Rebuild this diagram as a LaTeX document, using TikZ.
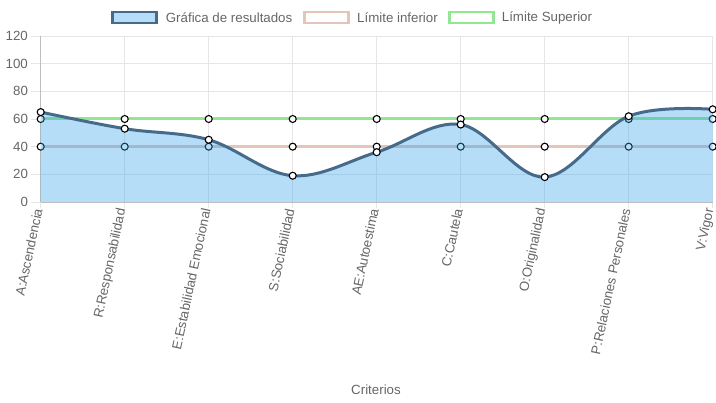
\documentclass[tikz,border=0pt]{standalone}
\usepackage{fontspec}
\setmainfont{Liberation Sans}
\usetikzlibrary{positioning}

\definecolor{gridc}{RGB}{230,230,230}
\definecolor{axisc}{RGB}{190,190,190}
\definecolor{txtc}{RGB}{102,102,102}
\definecolor{resline}{RGB}{69,106,138}
\definecolor{resfill}{RGB}{54,162,235}
\definecolor{infc}{RGB}{229,196,186}
\definecolor{supc}{RGB}{144,232,144}

\begin{document}
\begin{tikzpicture}[x=1pt, y=-1pt,
  lbl/.style={text=txtc, font=\fontsize{13.3}{15}\selectfont, inner sep=0pt},
  grid/.style={draw=gridc, line width=0.8pt},
  axis/.style={draw=axisc, line width=0.8pt},
  pt/.style={circle, draw=black, fill=white, line width=1.1pt, minimum size=7pt, inner sep=0pt},
  limline/.style={line width=3pt},
  legbox/.style={line width=2.6pt, minimum width=44pt, minimum height=11pt, inner sep=0pt}]
\useasboundingbox (0,0) rectangle (716,403);

\begin{scope}[shift={(40.7,202)}, x=84pt, y=1.3833pt]
  % grid and ticks
  \foreach \v in {0,20,...,120} {
    \draw[grid] (-0.12,\v) -- (8,\v);
    \node[lbl, anchor=east] (y\v) at (-0.15,\v) {\v};
  }
  \foreach \k in {0,...,8}
    \draw[grid] (\k,-4.6) -- (\k,120);
  \draw[axis] (0,0) -- (8,0);
  \draw[axis] (0,0) -- (0,120);

  % data
  \foreach \v [count=\k from 0] in {65,53,45,19,36,56,18,62,67} {
    \coordinate (r\k) at (\k,\v);
    \coordinate (li\k) at (\k,40);
    \coordinate (ls\k) at (\k,60);
  }
  \coordinate (b0) at (0,0);
  \coordinate (b8) at (8,0);

  % Limite Superior
  \draw[limline, supc] (ls0) -- (ls8);
  \foreach \k in {0,...,8} \node[pt] (pls\k) at (ls\k) {};
  % Limite inferior
  \draw[limline, infc] (li0) -- (li8);
  \foreach \k in {0,...,8} \node[pt] (pli\k) at (li\k) {};
  % Grafica de resultados
  \fill[resfill, fill opacity=0.36] plot[smooth, tension=0.6] coordinates {(r0) (r1) (r2) (r3) (r4) (r5) (r6) (r7) (r8)} -- (b8) -- (b0) -- cycle;
  \draw[limline, resline] plot[smooth, tension=0.6] coordinates {(r0) (r1) (r2) (r3) (r4) (r5) (r6) (r7) (r8)};
  \foreach \k in {0,...,8} \node[pt] (pr\k) at (r\k) {};

  % categories
  \foreach \c [count=\k from 0] in {A:Ascendencia, R:Responsabilidad, E:Estabilidad Emocional, S:Sociabilidad, AE:Autoestima, C:Cautela, O:Originalidad, P:Relaciones Personales, V:Vigor}
    \node[lbl, rotate=78, anchor=east] (c\k) at (\k-0.03,-4.8) {\c};
\end{scope}

% legend
\node[legbox, draw=resline, fill=resfill, fill opacity=0.36, draw opacity=1] (lgr) at (134.5,17.5) {};
\node[lbl, anchor=west] (tgr) at (165.7,17.5) {Gráfica de resultados};
\node[legbox, draw=infc, fill=white] (lgi) at (326.5,17.5) {};
\node[lbl, anchor=west] (tgi) at (357,17.5) {Límite inferior};
\node[legbox, draw=supc, fill=white] (lgs) at (471.5,17.5) {};
\node[lbl, anchor=west] (tgs) at (501.7,17.5) {Límite Superior};

\node[lbl] (xt) at (376,390) {Criterios};
\end{tikzpicture}
\end{document}
